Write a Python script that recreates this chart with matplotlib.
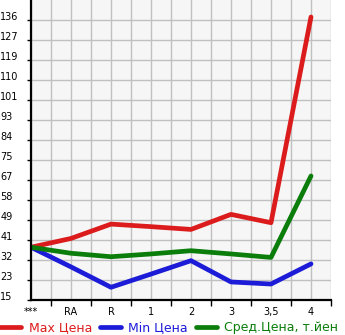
import numpy as np
from matplotlib import pyplot as plt

categories = ["***", "RA", "R", "1", "2", "3", "3,5", "4"]
max_price = [37.8, 41.6, 47.8, 46.7, 45.5, 52.0, 48.4, 137.3]
min_price = [37.8, 29.3, 20.5, 26.2, 32.0, 22.8, 21.9, 30.6]
avg_price = [37.8, 35.2, 33.7, 34.9, 36.3, 34.9, 33.4, 68.6]
ytick_labels = ["15", "23", "32", "41", "49", "58", "67", "75", "84", "93",
                "101", "110", "119", "127", "136"]
series_names = ["Max Цена", "Min Цена", "Сред.Цена, т.йен"]

colors = ["#dc1c1c", "#1c1cd8", "#0a7d0a"]

fig = plt.figure(figsize=(3.45, 3.35), dpi=100)
ax = fig.add_axes([31 / 345, 35 / 335, 300 / 345, 300 / 335])
ax.set_facecolor("#f6f6f6")

x = np.arange(len(categories))
handles = []
for Y, c in zip([max_price, min_price, avg_price], colors):
    h, = ax.plot(x, Y, color=c, lw=3.4, solid_capstyle="round", solid_joinstyle="round", zorder=3)
    handles.append(h)

# y axis: 15 ticks evenly spaced, labels rounded
ystep = (136 - 15) / 14
yticks = [15 + i * ystep for i in range(len(ytick_labels))]
ax.set_ylim(15, 15 + 15 * ystep)
ax.set_yticks(yticks, ytick_labels)
for t in ax.get_yticklabels():
    t.set_horizontalalignment("left")
    t.set_verticalalignment("baseline")
ax.tick_params(axis="y", length=3, width=1, pad=19, labelsize=7)

ax.set_xlim(0, len(categories) - 0.5)
ax.set_xticks(x, categories)
ax.set_xticks(x[:-1] + 0.5, minor=True)
ax.set_xticks(list(x[:-1] + 0.5) + [len(categories) - 0.5], minor=True)
ax.tick_params(axis="x", which="major", length=0, pad=5, labelsize=7)
ax.tick_params(axis="x", which="minor", length=4, width=1)

ax.grid(True, which="both", color="#c0c0c0", lw=1)
ax.set_axisbelow(True)
for s in ["top", "right"]:
    ax.spines[s].set_visible(False)
for s in ["left", "bottom"]:
    ax.spines[s].set_linewidth(1.6)
    ax.spines[s].set_zorder(4)

leg = fig.legend(handles, series_names, loc="center left", bbox_to_anchor=(0, 1 - 328 / 335),
                 ncol=3, frameon=False, fontsize=9, handlelength=1.7, handletextpad=0.6,
                 columnspacing=0.6, borderpad=0, borderaxespad=0)
for t, c in zip(leg.get_texts(), colors):
    t.set_color(c)

fig.savefig("out.png", dpi=100)
